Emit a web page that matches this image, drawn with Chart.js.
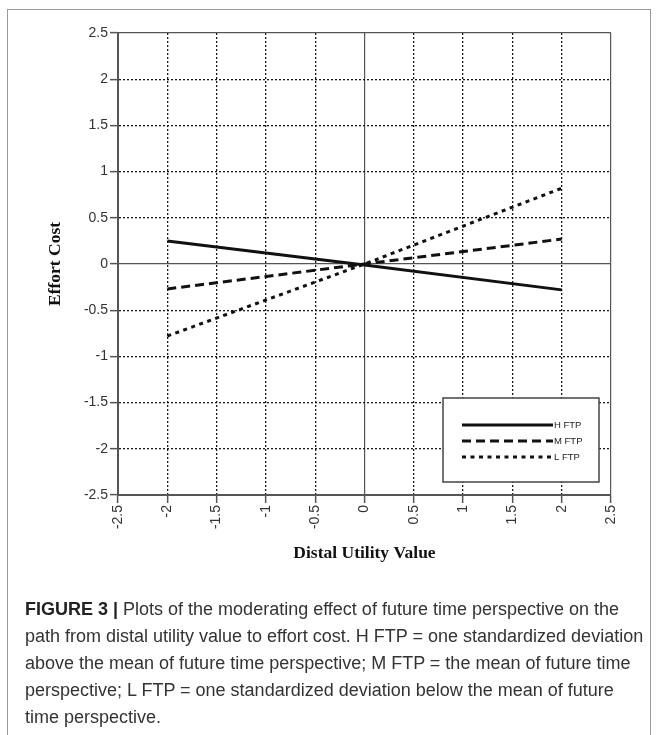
<!DOCTYPE html>
<html><head><meta charset="utf-8">
<script src="https://cdn.jsdelivr.net/npm/chart.js@4/dist/chart.umd.min.js"></script>
<style>
html,body{margin:0;padding:0;background:#fff;}
body{width:657px;height:735px;position:relative;overflow:hidden;font-family:"Liberation Sans",Arial,sans-serif;}
#frame{position:absolute;left:7px;top:9px;width:644px;height:760px;border:1px solid #9a9a9a;box-sizing:border-box;}
#wrap{position:absolute;left:0;top:0;width:657px;height:600px;}
#cap{position:absolute;left:25px;top:596px;width:630px;font-size:18px;line-height:27px;color:#333;white-space:nowrap;}
#cap b{color:#222;}
</style></head><body>
<div id="frame"></div>
<div id="wrap"><canvas id="c"></canvas></div>
<div id="cap"><b>FIGURE 3 |</b> Plots of the moderating effect of future time perspective on the<br>path from distal utility value to effort cost. H FTP = one standardized deviation<br>above the mean of future time perspective; M FTP = the mean of future time<br>perspective; L FTP = one standardized deviation below the mean of future<br>time perspective.</div>
<script>
// ---- data ----
const xValues = [-2, 0, 2];
const hFTP = [0.25, -0.01, -0.28];
const mFTP = [-0.27, 0.0, 0.27];
const lFTP = [-0.78, 0.0, 0.82];
const seriesNames = ['H FTP', 'M FTP', 'L FTP'];
const tickValues = [-2.5, -2, -1.5, -1, -0.5, 0, 0.5, 1, 1.5, 2, 2.5];
const tickLabels = ['-2.5', '-2', '-1.5', '-1', '-0.5', '0', '0.5', '1', '1.5', '2', '2.5'];
const xTitle = 'Distal Utility Value';
const yTitle = 'Effort Cost';

// ---- styles ----
const dashes = [[], [9, 5], [4, 4.5]];
const series = [hFTP, mFTP, lFTP];

function labelFor(v) {
  const i = tickValues.findIndex(t => Math.abs(t - v) < 1e-9);
  return i >= 0 ? tickLabels[i] : '';
}
function isSolid(ctx) {
  if (ctx.type !== 'tick' || !ctx.tick) return true;
  const v = ctx.tick.value;
  return Math.abs(v) < 1e-9 || Math.abs(Math.abs(v) - 2.5) < 1e-9;
}
function gridOpts() {
  return {
    color: ctx => isSolid(ctx) ? '#555' : '#1a1a1a',
    lineWidth: ctx => isSolid(ctx) ? 1.2 : 1.3,
    tickLength: 8,
    tickColor: '#555',
    tickWidth: 1.5,
    tickBorderDash: []
  };
}
function borderOpts() {
  return {
    display: true, color: '#555', width: 2,
    dash: ctx => isSolid(ctx) ? [] : [2, 2]
  };
}
const tickFont = {family: '"Liberation Sans", Arial, sans-serif', size: 14};
const titleFont = {family: '"Liberation Serif", "Times New Roman", serif', size: 17.5, weight: 'bold'};

const boxLegend = {
  id: 'boxLegend',
  afterDatasetsDraw(chart) {
    const ctx = chart.ctx, a = chart.chartArea;
    const x0 = a.right - 168, y0 = a.bottom - 97, w = 156, h = 84;
    ctx.save();
    ctx.fillStyle = '#fff';
    ctx.fillRect(x0, y0, w, h);
    ctx.strokeStyle = '#444';
    ctx.lineWidth = 1.5;
    ctx.strokeRect(x0, y0, w, h);
    chart.data.datasets.forEach((ds, i) => {
      const y = y0 + 27 + i * 16;
      ctx.beginPath();
      ctx.setLineDash(ds.borderDash || []);
      ctx.lineWidth = ds.borderWidth;
      ctx.strokeStyle = ds.borderColor;
      ctx.lineCap = 'butt';
      ctx.moveTo(x0 + 19, y);
      ctx.lineTo(x0 + 110, y);
      ctx.stroke();
      ctx.setLineDash([]);
      ctx.fillStyle = '#222';
      ctx.font = '9.5px "Liberation Sans", Arial, sans-serif';
      ctx.textBaseline = 'middle';
      ctx.textAlign = 'left';
      ctx.fillText(ds.label, x0 + 111, y);
    });
    ctx.restore();
  }
};

new Chart(document.getElementById('c'), {
  type: 'scatter',
  data: {
    datasets: series.map((s, i) => ({
      label: seriesNames[i],
      data: xValues.map((x, j) => ({x: x, y: s[j]})),
      showLine: true,
      borderColor: '#111',
      backgroundColor: '#111',
      borderWidth: 3,
      borderDash: dashes[i],
      borderCapStyle: 'butt',
      pointRadius: 0,
      tension: 0
    }))
  },
  options: {
    responsive: true,
    maintainAspectRatio: false,
    animation: false,
    devicePixelRatio: 1,
    layout: {padding: {left: 0, right: 46, top: 33, bottom: 0}},
    plugins: {legend: {display: false}, tooltip: {enabled: false}},
    scales: {
      x: {
        type: 'linear', min: -2.5, max: 2.5,
        afterBuildTicks: s => { s.ticks = tickValues.map(v => ({value: v})); },
        afterFit: s => { s.height = 105; },
        ticks: {callback: v => labelFor(v), minRotation: 90, maxRotation: 90, autoSkip: false,
                font: tickFont, color: '#333', padding: 2},
        grid: gridOpts(),
        border: borderOpts(),
        title: {display: true, text: xTitle, font: titleFont, color: '#111', padding: {top: 0, bottom: 36.5}}
      },
      y: {
        type: 'linear', min: -2.5, max: 2.5,
        afterBuildTicks: s => { s.ticks = tickValues.map(v => ({value: v})); },
        afterFit: s => { s.width = 118; },
        ticks: {callback: v => labelFor(v), autoSkip: false, font: tickFont, color: '#333', padding: 2},
        grid: gridOpts(),
        border: borderOpts(),
        title: {display: true, text: yTitle, font: titleFont, color: '#111', padding: {top: 45, bottom: 0}}
      }
    }
  },
  plugins: [boxLegend]
});
</script>
</body></html>
